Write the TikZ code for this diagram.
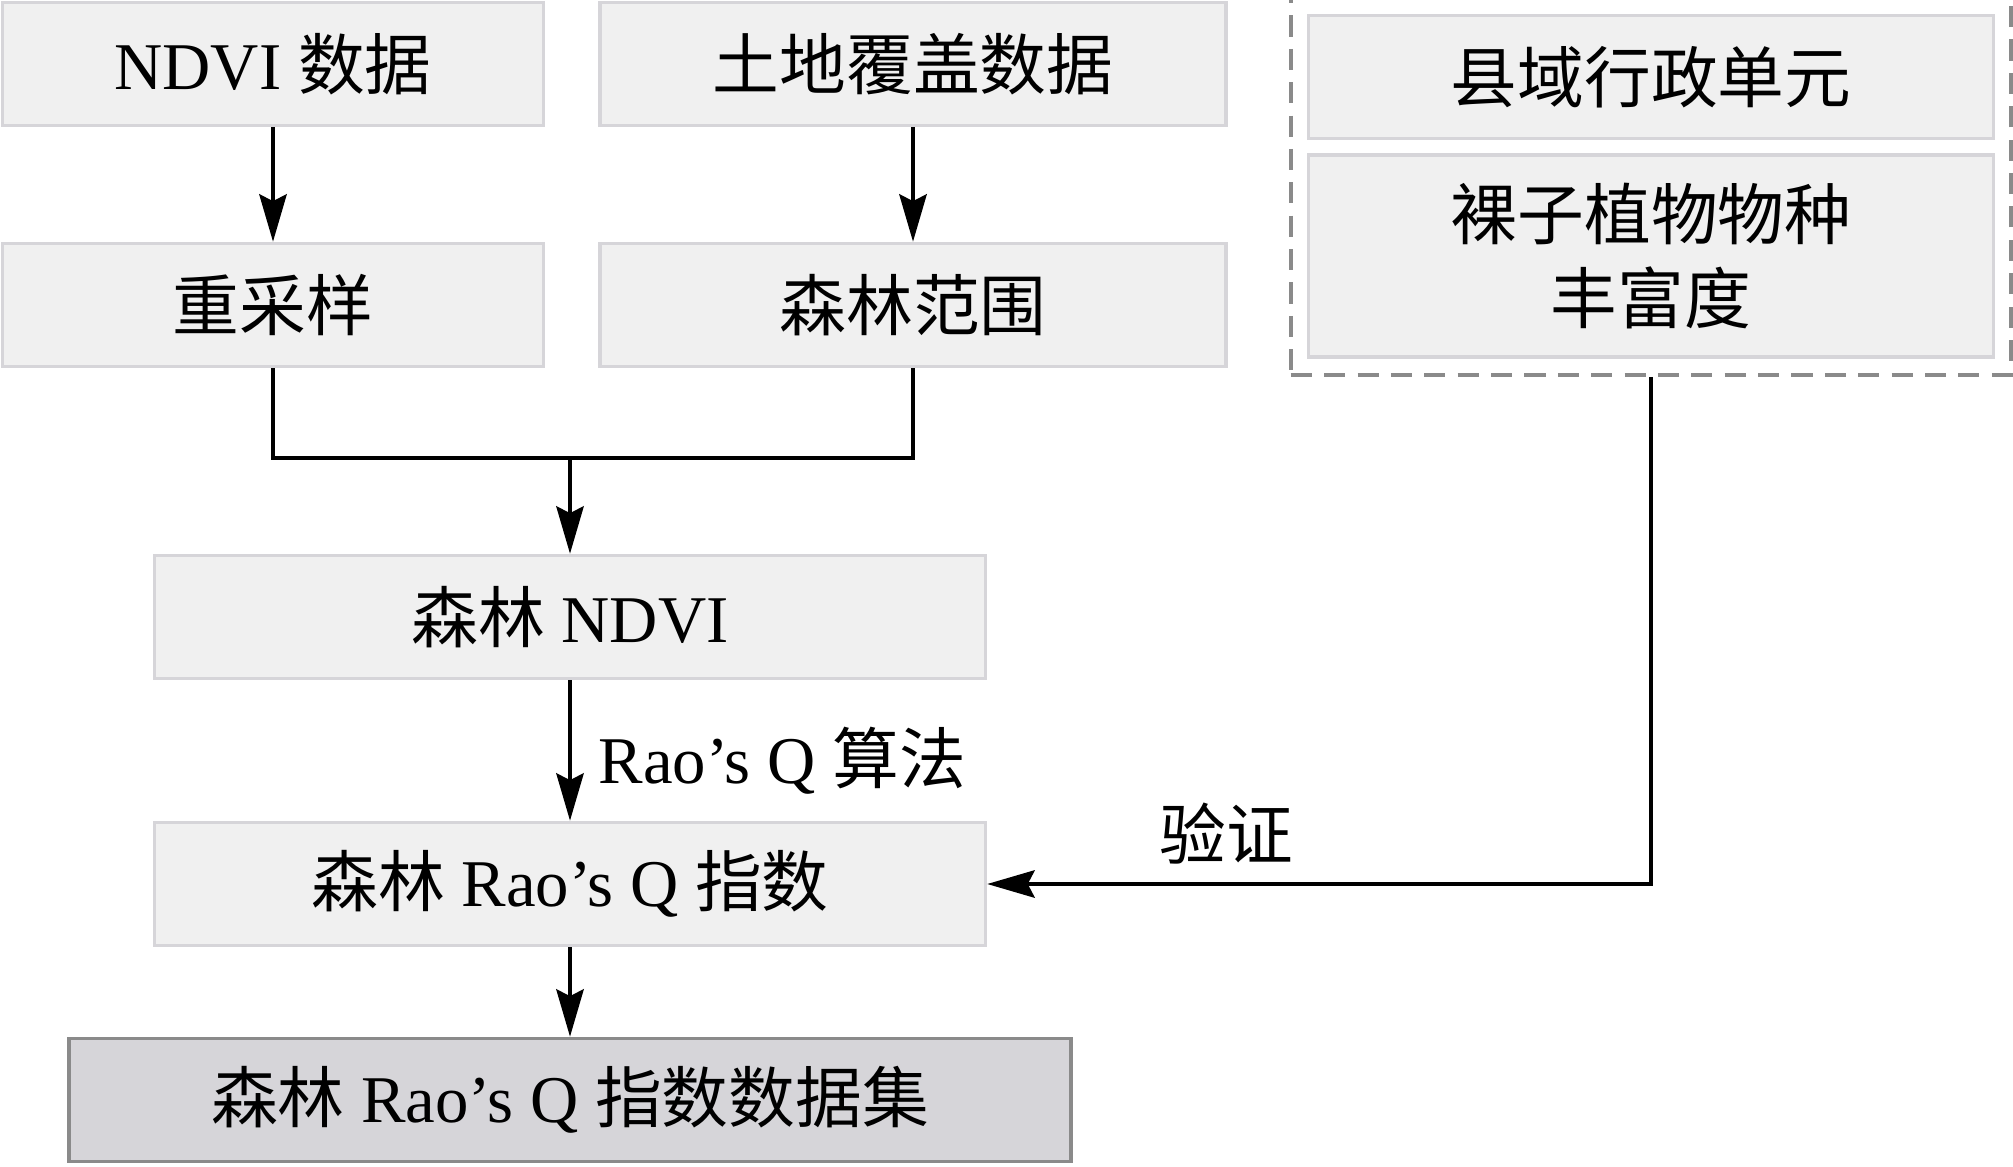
\documentclass[tikz,border=0pt]{standalone}
\usepackage{fontspec}
\setmainfont{Liberation Serif}
\newfontfamily\cjk{Noto Sans CJK SC}
\usetikzlibrary{arrows.meta,fit}
\definecolor{boxfill}{HTML}{F0F0F0}
\definecolor{boxline}{HTML}{D6D5D9}
\definecolor{darkfill}{HTML}{D6D5D9}
\definecolor{darkline}{HTML}{8A8A8A}
\begin{document}
\begin{tikzpicture}[x=0.02cm, y=-0.02cm,
        box/.style={draw=boxline, fill=boxfill, line width=2.1pt, minimum height=2.46cm,
            inner sep=0pt, align=center, font=\fontsize{38}{48}\selectfont},
        databox/.style={box, draw=darkline, fill=darkfill},
        grp/.style={draw=darkline, line width=2.2pt, dash pattern=on 12pt off 7pt, inner sep=0.32cm},
        arr/.style={-{Stealth[length=0.95cm, width=0.55cm, inset=0.14cm]}, line width=1.9pt},
        lbl/.style={font=\fontsize{38}{48}\selectfont}]
        \useasboundingbox (0,0) rectangle (2013,1166);
        % input data
        \node[box, minimum width=10.82cm] (ndvi) at (273,64) {NDVI {\cjk 数据}};
        \node[box, minimum width=12.52cm] (land) at (913,64) {\cjk 土地覆盖数据};
        \node[box, minimum width=10.82cm] (resample) at (273,305) {\cjk 重采样};
        \node[box, minimum width=12.52cm] (forest) at (913,305) {\cjk 森林范围};
        \node[box, minimum width=16.62cm] (fndvi) at (570,617) {{\cjk 森林} NDVI};
        \node[box, minimum width=16.62cm] (raoq) at (570,884) {{\cjk 森林} Rao’s Q {\cjk 指数}};
        \node[databox, minimum width=20.04cm] (dataset) at (570,1100) {{\cjk 森林} Rao’s Q {\cjk 指数数据集}};
        % validation data
        \node[box, minimum width=13.7cm] (county) at (1651,77) {\cjk 县域行政单元};
        \node[box, minimum width=13.7cm, minimum height=4.04cm] (gymno) at (1651,256) {\cjk 裸子植物物种\\\cjk 丰富度};
        \node[grp, fit=(county)(gymno)] (valid) {};
        % connectors
        \coordinate (merge) at (570,458);
        \draw[arr] (ndvi) -- (resample);
        \draw[arr] (land) -- (forest);
        \draw[line width=1.9pt] (resample.south) |- (merge) -| (forest.south);
        \draw[arr] (merge) -- (fndvi);
        \draw[arr] (fndvi) -- node[lbl, right=12pt, pos=0.57] {Rao’s Q {\cjk 算法}} (raoq);
        \draw[arr] (raoq) -- (dataset);
        \draw[arr] (valid.south) |- node[lbl, above=7pt, pos=0.82] {\cjk 验证} (raoq.east);
\end{tikzpicture}
\end{document}
